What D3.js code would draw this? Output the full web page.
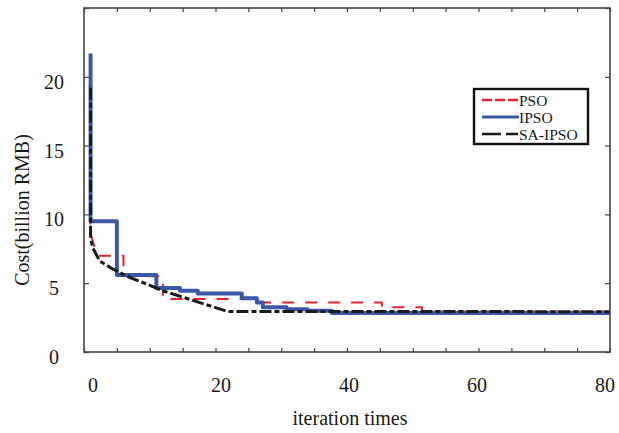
<!DOCTYPE html>
<html lang="en">
<head>
<meta charset="UTF-8">
<title>Convergence</title>
<script src="https://d3js.org/d3.v7.min.js"></script>
<style>
  body { margin: 0; background: #fff; }
  text { font-family: 'Liberation Serif', 'Times New Roman', serif; fill: #1a1a1a; }
</style>
</head>
<body>
<script>
  // iteration / cost points (billion RMB)
  const psoIter = [1, 1, 2, 6, 6, 12, 12, 25.5, 25.5, 45.3, 45.3, 51.4, 51.4, 80];
  const psoVal  = [18.5, 8.6, 7.0, 7.0, 5.5, 5.5, 3.85, 3.85, 3.6, 3.6, 3.25, 3.25, 2.95, 2.95];

  const ipsoIter = [1, 1, 5, 5, 11, 11, 14.6, 14.6, 17.3, 17.3, 24, 24, 26.3, 26.3, 27.2, 27.2, 30.8, 30.8, 34, 34, 37.7, 37.7, 80];
  const ipsoVal  = [21.7, 9.5, 9.5, 5.6, 5.6, 4.65, 4.65, 4.45, 4.45, 4.25, 4.25, 3.9, 3.9, 3.6, 3.6, 3.25, 3.25, 3.1, 3.1, 3.0, 3.0, 2.84, 2.84];

  const saIter = [1, 1, 1.3, 2.4, 4.5, 7, 9.5, 12, 14.6, 21.8, 80];
  const saVal  = [19.2, 8.3, 7.6, 6.6, 6.0, 5.4, 4.95, 4.45, 4.05, 2.95, 2.93];

  const xTicks = [0, 20, 40, 60, 80];
  const yTicks = [0, 5, 10, 15, 20];
  const seriesNames = ["PSO", "IPSO", "SA-IPSO"];

  const W = 619, H = 433;
  const mLeft = 84, mRight = 610, mTop = 8, mBottom = 352;

  const svg = d3.select("body").append("svg").attr("width", W).attr("height", H);

  const x = d3.scaleLinear().domain([0, 80]).range([mLeft, mRight]);
  const y = d3.scaleLinear().domain([0, 25]).range([mBottom, mTop]);

  const minorX = d3.range(0, 81, 5);
  const minorY = d3.range(0, 26, 5);

  // ticks pointing inward on all four sides
  const axisColor = "#444";
  function styleAx(g) {
    g.select(".domain").remove();
    g.selectAll("line").attr("stroke", axisColor).attr("stroke-width", 1.2);
    g.selectAll("text").remove();
  }
  svg.append("g").attr("transform", `translate(0,${mBottom})`)
    .call(d3.axisBottom(x).tickValues(minorX).tickSize(-4)).call(styleAx);
  svg.append("g").attr("transform", `translate(0,${mTop})`)
    .call(d3.axisTop(x).tickValues(minorX).tickSize(-4)).call(styleAx);
  svg.append("g").attr("transform", `translate(${mLeft},0)`)
    .call(d3.axisLeft(y).tickValues(minorY).tickSize(-5)).call(styleAx);
  svg.append("g").attr("transform", `translate(${mRight},0)`)
    .call(d3.axisRight(y).tickValues(minorY).tickSize(-5)).call(styleAx);

  // tick labels
  svg.append("g").selectAll("text").data(xTicks).join("text")
    .attr("x", d => x(d) + 9 - 14 * d / 80)
    .attr("y", 392)
    .attr("text-anchor", "middle")
    .style("font-size", "20px")
    .text(d => d);

  svg.append("g").selectAll("text").data(yTicks).join("text")
    .attr("x", 54)
    .attr("y", d => y(d) + 12)
    .attr("text-anchor", "middle")
    .style("font-size", "20px")
    .text(d => d);

  svg.append("text")
    .attr("x", (mLeft + mRight) / 2 + 3)
    .attr("y", 425)
    .attr("text-anchor", "middle")
    .style("font-size", "20px")
    .text("iteration times");

  svg.append("text")
    .attr("transform", "translate(29,210) rotate(-90)")
    .attr("text-anchor", "middle")
    .style("font-size", "20px")
    .text("Cost(billion RMB)");

  // series
  const line = d3.line().x(d => x(d[0])).y(d => y(d[1]));
  const series = [
    {name: seriesNames[0], pts: d3.zip(psoIter, psoVal), color: "#e8232b", width: 2, dash: "12,11"},
    {name: seriesNames[1], pts: d3.zip(ipsoIter, ipsoVal), color: "#3b58a6", width: 4, dash: null},
    {name: seriesNames[2], pts: d3.zip(saIter, saVal), color: "#1b1b1b", width: 3, dash: "12,3,5,3"}
  ];

  svg.append("g").selectAll("path").data(series).join("path")
    .attr("d", d => line(d.pts))
    .attr("fill", "none")
    .attr("stroke", d => d.color)
    .attr("stroke-width", d => d.width)
    .attr("stroke-dasharray", d => d.dash)
    .attr("stroke-linejoin", "round");

  // frame
  svg.append("rect")
    .attr("x", mLeft).attr("y", mTop)
    .attr("width", mRight - mLeft).attr("height", mBottom - mTop)
    .attr("fill", "none").attr("stroke", axisColor).attr("stroke-width", 1.6);

  // legend
  const lg = svg.append("g");
  lg.append("rect")
    .attr("x", 474).attr("y", 89).attr("width", 114).attr("height", 55)
    .attr("fill", "#fff").attr("stroke", "#111").attr("stroke-width", 2.4);
  const legendDash = ["10,3", null, "19,5,12"];
  series.forEach((s, i) => {
    const ly = 100 + i * 17;
    lg.append("line")
      .attr("x1", 482).attr("x2", 519).attr("y1", ly).attr("y2", ly)
      .attr("stroke", s.color).attr("stroke-width", s.width === 4 ? 3 : 2.5)
      .attr("stroke-dasharray", legendDash[i]);
    lg.append("text")
      .attr("x", 519).attr("y", ly + 5.5)
      .style("font-size", "15.5px")
      .text(s.name);
  });
</script>
</body>
</html>
